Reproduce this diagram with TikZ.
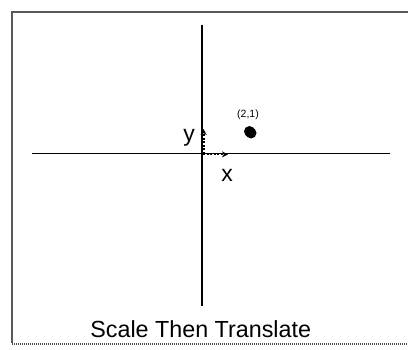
\documentclass[tikz,border=0pt]{standalone}
\usepackage{fontspec}
\setmainfont{Liberation Sans}
\usetikzlibrary{arrows.meta}
\begin{document}
\begin{tikzpicture}[x=1pt,y=1pt,
  frameline/.style={draw=black!65,line width=1.5pt},
  axisline/.style={draw=black,line width=1.1pt},
  basisvec/.style={draw=black,line width=2.2pt,dash pattern=on 2pt off 1.6pt,-{Stealth[length=6pt,width=6pt,sep=0pt]}},
  biglabel/.style={font=\fontsize{23}{26}\selectfont,inner sep=0pt,anchor=base},
  titlelabel/.style={font=\fontsize{23.3}{27}\selectfont,inner sep=0pt,anchor=base},
  smalllabel/.style={font=\fontsize{10.5}{12}\selectfont,inner sep=0pt}]
\useasboundingbox (0,0) rectangle (408,349);
% frame
\coordinate (ftr) at (410,337);
\coordinate (ftl) at (12,337);
\coordinate (fbl) at (12,6);
\coordinate (bl) at (12,5);
\coordinate (br) at (410,5);
\draw[frameline] (ftr) -- (ftl) -- (fbl);
\draw[draw=black!70,line width=2.2pt,dash pattern=on 1.2pt off 0.8pt] (bl) -- (br);
% axes
\coordinate (vtop) at (202,324);
\coordinate (vbot) at (202,43);
\coordinate (hleft) at (32,195.5);
\coordinate (hright) at (390,195.5);
\draw[axisline] (vtop) -- (vbot);
\draw[axisline] (hleft) -- (hright);
% basis vectors
\coordinate (oy) at (203.6,195);
\coordinate (ytip) at (203.6,220);
\coordinate (ox) at (203,194.6);
\coordinate (xtip) at (228,194.6);
\draw[basisvec] (oy) -- (ytip);
\draw[basisvec] (ox) -- (xtip);
% labels
\node[biglabel] (ylab) at (189,207.3) {y};
\node[biglabel] (xlab) at (227,167.3) {x};
% point
\fill[black] (251,216) circle (5.5pt);
\node[circle,fill=black,inner sep=0pt,minimum size=11pt] (pt) at (249.5,217.5) {};
\node[smalllabel] (ptlab) at (248,234) {(2,1)};
% title
\node[titlelabel] (title) at (200.7,11.7) {Scale Then Translate};
\end{tikzpicture}
\end{document}
